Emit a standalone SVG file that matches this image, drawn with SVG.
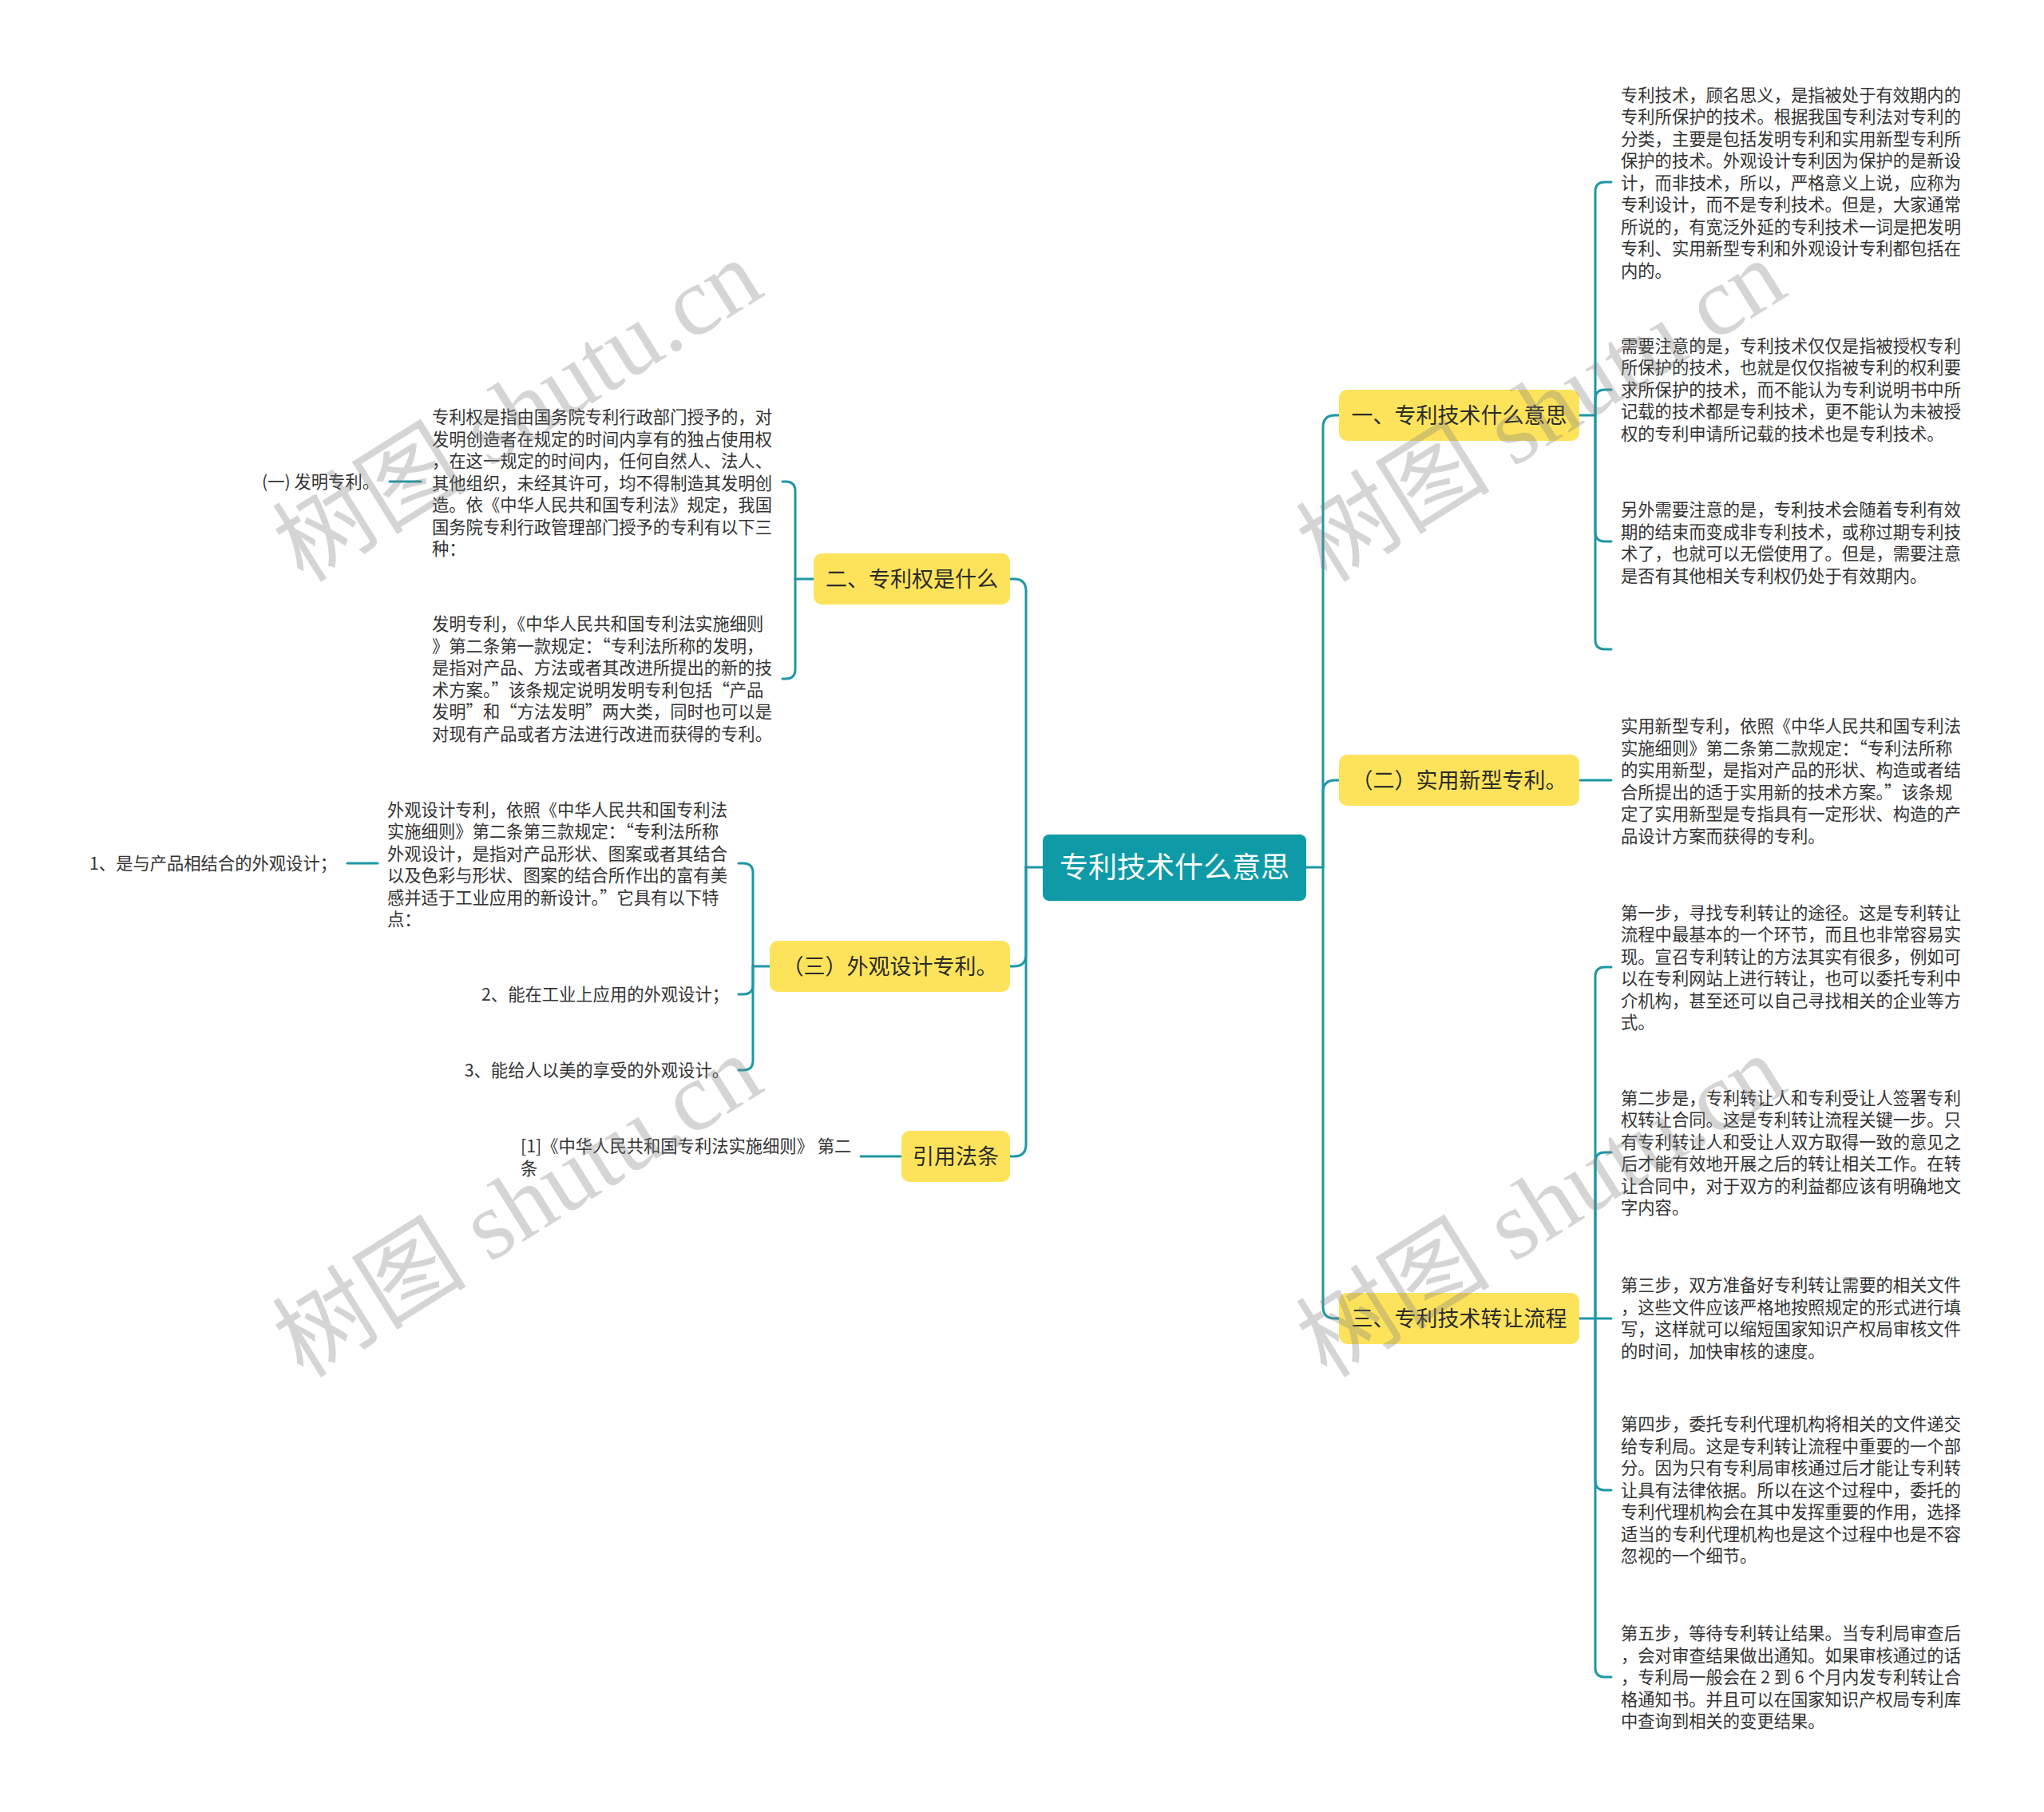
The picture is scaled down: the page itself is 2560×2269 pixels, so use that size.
<svg xmlns="http://www.w3.org/2000/svg" width="2560" height="2269" viewBox="0 0 2560 2269">
<style>
.bg{fill:#ffffff}
.c{fill:none;stroke:#1e97a5;stroke-width:3;stroke-linecap:round;stroke-linejoin:round}
.root rect{fill:#0e9aa7}
.root text{fill:#ffffff;font-size:36px;text-anchor:middle}
.main rect{fill:#fde35b}
.main text{fill:#2b2b2b;font-size:27px;text-anchor:middle}
text{font-family:"Noto Sans CJK SC","Noto Sans",sans-serif}
.t{fill:#333333;font-size:21.3px}
.e{text-anchor:end}
.wm{fill:#808080;fill-opacity:0.33;font-size:122px;font-family:"Liberation Serif","Noto Sans CJK SC",serif;text-anchor:middle}
</style>
<rect class="bg" x="0" y="0" width="2560" height="2269"/>

<g id="connectors">
<path class="c" d="M1636 1086 H1657"/>
<path class="c" d="M1657 1086 V535 Q1657 520 1672 520 H1677"/>
<path class="c" d="M1657 1086 V992 Q1657 977 1672 977 H1677"/>
<path class="c" d="M1657 1086 V1636 Q1657 1651 1672 1651 H1677"/>
<path class="c" d="M1306 1086 H1285"/>
<path class="c" d="M1285 1086 V740 Q1285 725 1270 725 H1265"/>
<path class="c" d="M1285 1086 V1195 Q1285 1210 1270 1210 H1264"/>
<path class="c" d="M1285 1086 V1433 Q1285 1448 1270 1448 H1265"/>
<path class="c" d="M1978 520 H1998"/>
<path class="c" d="M1998 520 V240 Q1998 228 2010 228 H2018"/>
<path class="c" d="M1998 520 V500 Q1998 488 2010 488 H2018"/>
<path class="c" d="M1998 520 V666 Q1998 678 2010 678 H2018"/>
<path class="c" d="M1998 520 V801 Q1998 813 2010 813 H2018"/>
<path class="c" d="M1978 977 H2018"/>
<path class="c" d="M1978 1651 H2018"/>
<path class="c" d="M1998 1651 V1223 Q1998 1211 2010 1211 H2018"/>
<path class="c" d="M1998 1651 V1455 Q1998 1443 2010 1443 H2018"/>
<path class="c" d="M1998 1651 V1854 Q1998 1866 2010 1866 H2018"/>
<path class="c" d="M1998 1651 V2088 Q1998 2100 2010 2100 H2018"/>
<path class="c" d="M1019 725 H996"/>
<path class="c" d="M996 725 V615 Q996 603 984 603 H980"/>
<path class="c" d="M996 725 V838 Q996 850 984 850 H980"/>
<path class="c" d="M527 603 H488"/>
<path class="c" d="M964 1210 H943"/>
<path class="c" d="M943 1210 V1093 Q943 1081 931 1081 H925"/>
<path class="c" d="M943 1210 V1233 Q943 1245 931 1245 H925"/>
<path class="c" d="M943 1210 V1328 Q943 1340 931 1340 H925"/>
<path class="c" d="M473 1081 H435"/>
<path class="c" d="M1128 1448 H1078"/>
</g>

<g id="root" class="root">
<rect x="1306" y="1045" width="330" height="83" rx="8"/>
<text x="1471" y="1099">专利技术什么意思</text>
</g>

<g id="n1" class="main">
<rect x="1677" y="488" width="301" height="64" rx="10"/>
<text x="1827.5" y="530">一、专利技术什么意思</text>
</g>
<g id="n2" class="main">
<rect x="1677" y="945" width="301" height="64" rx="10"/>
<text x="1827.5" y="987">（二）实用新型专利。</text>
</g>
<g id="n3" class="main">
<rect x="1677" y="1619" width="301" height="64" rx="10"/>
<text x="1827.5" y="1661">三、专利技术转让流程</text>
</g>
<g id="n4" class="main">
<rect x="1019" y="693" width="246" height="64" rx="10"/>
<text x="1142" y="735">二、专利权是什么</text>
</g>
<g id="n5" class="main">
<rect x="964" y="1178" width="301" height="64" rx="10"/>
<text x="1114.5" y="1220">（三）外观设计专利。</text>
</g>
<g id="n6" class="main">
<rect x="1129" y="1416" width="136" height="64" rx="10"/>
<text x="1197" y="1458">引用法条</text>
</g>

<g id="r1">
<text class="t" x="2030" y="126.5"><tspan x="2030">专利技术，顾名思义，是指被处于有效期内的</tspan><tspan x="2030" dy="27.5">专利所保护的技术。根据我国专利法对专利的</tspan><tspan x="2030" dy="27.5">分类，主要是包括发明专利和实用新型专利所</tspan><tspan x="2030" dy="27.5">保护的技术。外观设计专利因为保护的是新设</tspan><tspan x="2030" dy="27.5">计，而非技术，所以，严格意义上说，应称为</tspan><tspan x="2030" dy="27.5">专利设计，而不是专利技术。但是，大家通常</tspan><tspan x="2030" dy="27.5">所说的，有宽泛外延的专利技术一词是把发明</tspan><tspan x="2030" dy="27.5">专利、实用新型专利和外观设计专利都包括在</tspan><tspan x="2030" dy="27.5">内的。</tspan></text>
</g>
<g id="r2">
<text class="t" x="2030" y="440.5"><tspan x="2030">需要注意的是，专利技术仅仅是指被授权专利</tspan><tspan x="2030" dy="27.5">所保护的技术，也就是仅仅指被专利的权利要</tspan><tspan x="2030" dy="27.5">求所保护的技术，而不能认为专利说明书中所</tspan><tspan x="2030" dy="27.5">记载的技术都是专利技术，更不能认为未被授</tspan><tspan x="2030" dy="27.5">权的专利申请所记载的技术也是专利技术。</tspan></text>
</g>
<g id="r3">
<text class="t" x="2030" y="646"><tspan x="2030">另外需要注意的是，专利技术会随着专利有效</tspan><tspan x="2030" dy="27.5">期的结束而变成非专利技术，或称过期专利技</tspan><tspan x="2030" dy="27.5">术了，也就可以无偿使用了。但是，需要注意</tspan><tspan x="2030" dy="27.5">是否有其他相关专利权仍处于有效期内。</tspan></text>
</g>
<g id="r4">
<text class="t" x="2030" y="917.3"><tspan x="2030">实用新型专利，依照《中华人民共和国专利法</tspan><tspan x="2030" dy="27.5">实施细则》第二条第二款规定：“专利法所称</tspan><tspan x="2030" dy="27.5">的实用新型，是指对产品的形状、构造或者结</tspan><tspan x="2030" dy="27.5">合所提出的适于实用新的技术方案。”该条规</tspan><tspan x="2030" dy="27.5">定了实用新型是专指具有一定形状、构造的产</tspan><tspan x="2030" dy="27.5">品设计方案而获得的专利。</tspan></text>
</g>
<g id="r5">
<text class="t" x="2030" y="1150.8"><tspan x="2030">第一步，寻找专利转让的途径。这是专利转让</tspan><tspan x="2030" dy="27.5">流程中最基本的一个环节，而且也非常容易实</tspan><tspan x="2030" dy="27.5">现。宣召专利转让的方法其实有很多，例如可</tspan><tspan x="2030" dy="27.5">以在专利网站上进行转让，也可以委托专利中</tspan><tspan x="2030" dy="27.5">介机构，甚至还可以自己寻找相关的企业等方</tspan><tspan x="2030" dy="27.5">式。</tspan></text>
</g>
<g id="r6">
<text class="t" x="2030" y="1382.8"><tspan x="2030">第二步是，专利转让人和专利受让人签署专利</tspan><tspan x="2030" dy="27.5">权转让合同。这是专利转让流程关键一步。只</tspan><tspan x="2030" dy="27.5">有专利转让人和受让人双方取得一致的意见之</tspan><tspan x="2030" dy="27.5">后才能有效地开展之后的转让相关工作。在转</tspan><tspan x="2030" dy="27.5">让合同中，对于双方的利益都应该有明确地文</tspan><tspan x="2030" dy="27.5">字内容。</tspan></text>
</g>
<g id="r7">
<text class="t" x="2030" y="1617"><tspan x="2030">第三步，双方准备好专利转让需要的相关文件</tspan><tspan x="2030" dy="27.5">，这些文件应该严格地按照规定的形式进行填</tspan><tspan x="2030" dy="27.5">写，这样就可以缩短国家知识产权局审核文件</tspan><tspan x="2030" dy="27.5">的时间，加快审核的速度。</tspan></text>
</g>
<g id="r8">
<text class="t" x="2030" y="1791.3"><tspan x="2030">第四步，委托专利代理机构将相关的文件递交</tspan><tspan x="2030" dy="27.5">给专利局。这是专利转让流程中重要的一个部</tspan><tspan x="2030" dy="27.5">分。因为只有专利局审核通过后才能让专利转</tspan><tspan x="2030" dy="27.5">让具有法律依据。所以在这个过程中，委托的</tspan><tspan x="2030" dy="27.5">专利代理机构会在其中发挥重要的作用，选择</tspan><tspan x="2030" dy="27.5">适当的专利代理机构也是这个过程中也是不容</tspan><tspan x="2030" dy="27.5">忽视的一个细节。</tspan></text>
</g>
<g id="r9">
<text class="t" x="2030" y="2053"><tspan x="2030">第五步，等待专利转让结果。当专利局审查后</tspan><tspan x="2030" dy="27.5">，会对审查结果做出通知。如果审核通过的话</tspan><tspan x="2030" dy="27.5">，专利局一般会在 2 到 6 个月内发专利转让合</tspan><tspan x="2030" dy="27.5">格通知书。并且可以在国家知识产权局专利库</tspan><tspan x="2030" dy="27.5">中查询到相关的变更结果。</tspan></text>
</g>

<g id="l1">
<text class="t" x="541" y="530"><tspan x="541">专利权是指由国务院专利行政部门授予的，对</tspan><tspan x="541" dy="27.5">发明创造者在规定的时间内享有的独占使用权</tspan><tspan x="541" dy="27.5">，在这一规定的时间内，任何自然人、法人、</tspan><tspan x="541" dy="27.5">其他组织，未经其许可，均不得制造其发明创</tspan><tspan x="541" dy="27.5">造。依《中华人民共和国专利法》规定，我国</tspan><tspan x="541" dy="27.5">国务院专利行政管理部门授予的专利有以下三</tspan><tspan x="541" dy="27.5">种：</tspan></text>
</g>
<g id="l1a">
<text class="t e" x="475" y="611">(一) 发明专利。</text>
</g>
<g id="l2">
<text class="t" x="541" y="789.3"><tspan x="541">发明专利，《中华人民共和国专利法实施细则</tspan><tspan x="541" dy="27.5">》第二条第一款规定：“专利法所称的发明，</tspan><tspan x="541" dy="27.5">是指对产品、方法或者其改进所提出的新的技</tspan><tspan x="541" dy="27.5">术方案。”该条规定说明发明专利包括“产品</tspan><tspan x="541" dy="27.5">发明”和“方法发明”两大类，同时也可以是</tspan><tspan x="541" dy="27.5">对现有产品或者方法进行改进而获得的专利。</tspan></text>
</g>
<g id="l3">
<text class="t" x="485" y="1021.8"><tspan x="485">外观设计专利，依照《中华人民共和国专利法</tspan><tspan x="485" dy="27.5">实施细则》第二条第三款规定：“专利法所称</tspan><tspan x="485" dy="27.5">外观设计，是指对产品形状、图案或者其结合</tspan><tspan x="485" dy="27.5">以及色彩与形状、图案的结合所作出的富有美</tspan><tspan x="485" dy="27.5">感并适于工业应用的新设计。”它具有以下特</tspan><tspan x="485" dy="27.5">点：</tspan></text>
</g>
<g id="l3a">
<text class="t e" x="422" y="1089">1、是与产品相结合的外观设计；</text>
</g>
<g id="l4">
<text class="t e" x="913" y="1253">2、能在工业上应用的外观设计；</text>
</g>
<g id="l5">
<text class="t e" x="913" y="1348">3、能给人以美的享受的外观设计。</text>
</g>
<g id="l6">
<text class="t" x="652" y="1443"><tspan x="652">[1]《中华人民共和国专利法实施细则》 第二</tspan><tspan x="652" dy="27.5">条</tspan></text>
</g>

<g id="watermarks">
<text class="wm" x="648" y="556" transform="rotate(-32 648 514)">树图 shutu.cn</text>
<text class="wm" x="648" y="1552" transform="rotate(-32 648 1510)">树图 shutu.cn</text>
<text class="wm" x="1930" y="556" transform="rotate(-32 1930 514)">树图 shutu.cn</text>
<text class="wm" x="1930" y="1552" transform="rotate(-32 1930 1510)">树图 shutu.cn</text>
</g>
</svg>
